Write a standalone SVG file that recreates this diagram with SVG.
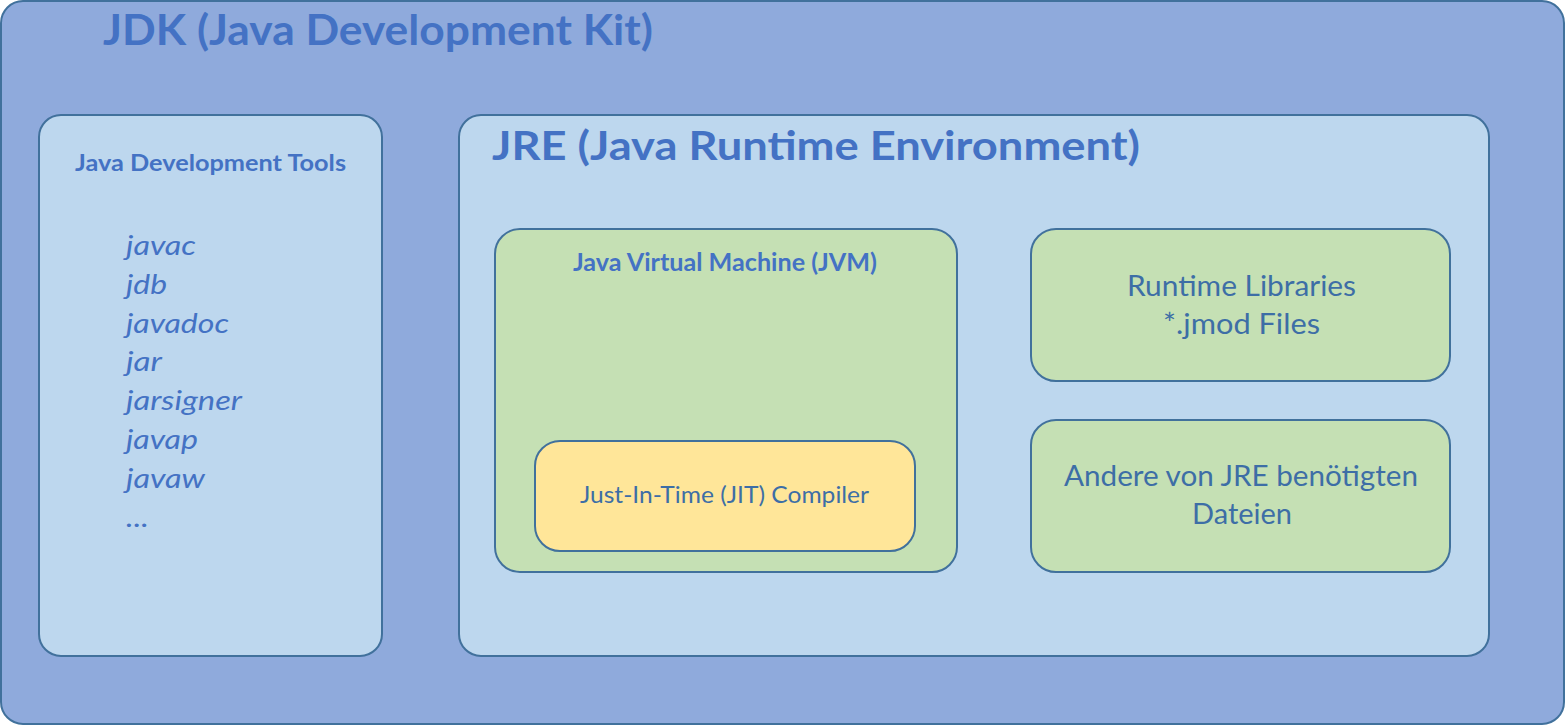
<svg xmlns="http://www.w3.org/2000/svg" width="1566" height="726" viewBox="0 0 1566 726">
<style>
.box{stroke:#41719c;stroke-width:2}
.jdk{fill:#8faadc}
.lb{fill:#bdd7ee}
.gr{fill:#c5e0b4}
.ye{fill:#ffe699}
text{font-family:Lato,"Open Sans","Liberation Sans",sans-serif}
.t{fill:#4472c4;font-weight:bold}
.it{fill:#4472c4;font-style:italic;font-size:27px}
.d{fill:#3d6ea6}
</style>
<g id="jdk">
<rect class="box jdk" x="1" y="1" width="1563" height="723" rx="22"/>
<text class="t" x="103" y="45" font-size="42" textLength="550" lengthAdjust="spacingAndGlyphs">JDK (Java Development Kit)</text>
</g>
<g id="devtools">
<rect class="box lb" x="39" y="115" width="343" height="541" rx="22"/>
<text class="t" x="75" y="171" font-size="23.5" textLength="271" lengthAdjust="spacingAndGlyphs">Java Development Tools</text>
<text class="it" x="126" y="255" textLength="70" lengthAdjust="spacingAndGlyphs">javac</text>
<text class="it" x="126" y="294" textLength="41" lengthAdjust="spacingAndGlyphs">jdb</text>
<text class="it" x="126" y="333" textLength="103" lengthAdjust="spacingAndGlyphs">javadoc</text>
<text class="it" x="126" y="371" textLength="36" lengthAdjust="spacingAndGlyphs">jar</text>
<text class="it" x="126" y="410" textLength="116" lengthAdjust="spacingAndGlyphs">jarsigner</text>
<text class="it" x="126" y="449" textLength="72" lengthAdjust="spacingAndGlyphs">javap</text>
<text class="it" x="126" y="488" textLength="79" lengthAdjust="spacingAndGlyphs">javaw</text>
<text class="it" x="126" y="527" textLength="23" lengthAdjust="spacingAndGlyphs">...</text>
</g>
<g id="jre">
<rect class="box lb" x="459" y="115" width="1030" height="541" rx="22"/>
<text class="t" x="492" y="160" font-size="41" textLength="648" lengthAdjust="spacingAndGlyphs">JRE (Java Runtime Environment)</text>
</g>
<g id="jvm">
<rect class="box gr" x="495" y="229" width="462" height="343" rx="25"/>
<text class="t" x="573" y="271" font-size="25" textLength="304" lengthAdjust="spacingAndGlyphs">Java Virtual Machine (JVM)</text>
</g>
<g id="jit">
<rect class="box ye" x="535" y="441" width="380" height="110" rx="25"/>
<text class="d" x="580" y="503" font-size="22.5" textLength="289" lengthAdjust="spacingAndGlyphs">Just-In-Time (JIT) Compiler</text>
</g>
<g id="runtime-libs">
<rect class="box gr" x="1031" y="229" width="419" height="152" rx="25"/>
<text class="d" x="1127" y="296" font-size="29" textLength="229" lengthAdjust="spacingAndGlyphs">Runtime Libraries</text>
<text class="d" x="1163" y="334" font-size="29" textLength="157" lengthAdjust="spacingAndGlyphs">*.jmod Files</text>
</g>
<g id="other-files">
<rect class="box gr" x="1031" y="420" width="419" height="152" rx="25"/>
<text class="d" x="1064" y="486" font-size="29" textLength="354" lengthAdjust="spacingAndGlyphs">Andere von JRE benötigten</text>
<text class="d" x="1192" y="524" font-size="29" textLength="100" lengthAdjust="spacingAndGlyphs">Dateien</text>
</g>
<g id="connectors"/>
</svg>
